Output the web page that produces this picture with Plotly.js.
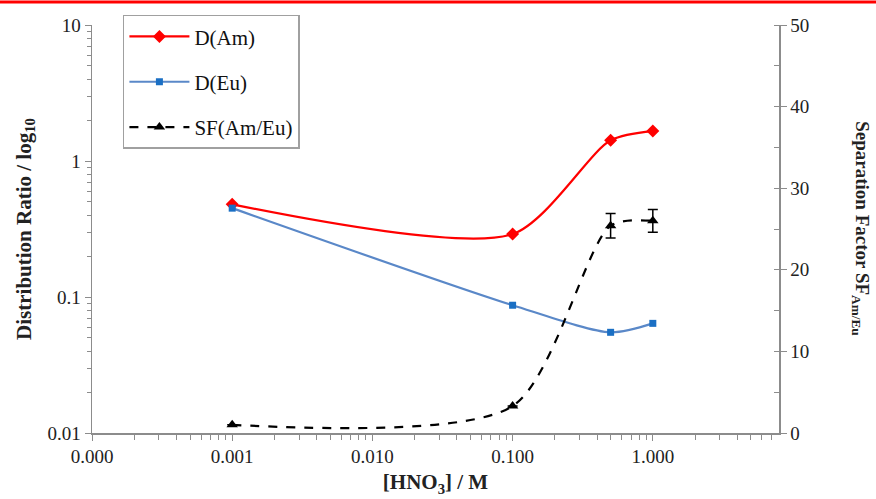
<!DOCTYPE html>
<html><head><meta charset="utf-8">
<script src="https://cdn.plot.ly/plotly-3.0.1.min.js"></script>
<style>body{margin:0;background:#fff}#chart{width:876px;height:499px}</style>
</head><body><div id="chart"></div>
<script>
const hno3 = [0.001, 0.1, 0.5, 1.0];
const dAm = [0.48, 0.29, 1.42, 1.66];
const dEu = [0.45, 0.087, 0.055, 0.064];
const sf = [1.0, 3.3, 25.4, 26.0];
const sfErr = [0.0, 0.0, 1.5, 1.4];
const xTickVals = [0.0001, 0.001, 0.01, 0.1, 1];
const xTickText = ['0.000', '0.001', '0.010', '0.100', '1.000'];
const yTickVals = [0.01, 0.1, 1, 10];
const yTickText = ['0.01', '0.1', '1', '10'];

const serif = '"Liberation Serif", "Times New Roman", serif';
const axisCol = '#8c8c8c';

const traces = [
  {x: hno3, y: dAm, name: 'D(Am)', type: 'scatter', mode: 'lines+markers', legendgroup: 'a',
   line: {color: '#ff0000', width: 2.2, shape: 'spline', smoothing: 0.75},
   marker: {symbol: 'diamond', size: 10, color: '#ff0000'}},
  {x: hno3, y: dEu, name: 'D(Eu)', type: 'scatter', mode: 'lines+markers', legendgroup: 'b',
   line: {color: '#5a88c8', width: 2.2, shape: 'spline', smoothing: 0.75},
   marker: {symbol: 'square', size: 7, color: '#1a6fc4'}},
  {x: hno3, y: sf, name: 'SF(Am/Eu)', type: 'scatter', mode: 'lines+markers', yaxis: 'y2', legendgroup: 'c',
   line: {color: '#000000', width: 2.2, dash: 'dash', shape: 'spline', smoothing: 0.75},
   marker: {symbol: 'triangle-up', size: 10, color: '#000000'},
   error_y: {type: 'data', array: sfErr, visible: true, color: '#000', thickness: 1.5, width: 5}}
];

const layout = {
  width: 876, height: 499,
  margin: {l: 92, r: 97, t: 25, b: 66},
  paper_bgcolor: '#fff', plot_bgcolor: '#fff',
  font: {family: serif, size: 19, color: '#222'},
  showlegend: true,
  legend: {x: 0.045, y: 1.025, xanchor: 'left', yanchor: 'top', bgcolor: '#fff',
           bordercolor: '#a0a0a0', borderwidth: 1.5, font: {family: serif, size: 21, color: '#111'},
           tracegroupgap: 15, itemwidth: 60},
  xaxis: {type: 'log', range: [-4, 0.9], tickvals: xTickVals, ticktext: xTickText,
          showgrid: false, zeroline: false, showline: true, linecolor: axisCol, linewidth: 1.5,
          ticks: 'outside', ticklen: 6, tickcolor: axisCol,
          minor: {ticks: 'outside', ticklen: 5, tickcolor: axisCol, dtick: 'D1', showgrid: false},
          tickfont: {family: serif, size: 19, color: '#222'},
          title: {text: '<b>[HNO<sub>3</sub>] / M</b>', font: {family: serif, size: 21, color: '#222'}, standoff: 8}},
  yaxis: {type: 'log', range: [-2, 1], tickvals: yTickVals, ticktext: yTickText,
          showgrid: false, zeroline: false, showline: true, linecolor: axisCol, linewidth: 1.5,
          ticks: 'outside', ticklen: 6, tickcolor: axisCol,
          minor: {ticks: 'outside', ticklen: 4, tickcolor: axisCol, dtick: 'D1', showgrid: false},
          tickfont: {family: serif, size: 19, color: '#222'},
          title: {text: '<b>Distribution Ratio / log<sub>10</sub></b>', font: {family: serif, size: 21, color: '#222'}, standoff: 10}},
  yaxis2: {overlaying: 'y', side: 'right', range: [0, 50], dtick: 10,
           showgrid: false, zeroline: false, showline: true, linecolor: axisCol, linewidth: 1.5,
           ticks: 'outside', ticklen: 6, tickcolor: axisCol,
           minor: {ticks: 'inside', ticklen: 5, tickcolor: axisCol, dtick: 5, showgrid: false},
           tickfont: {family: serif, size: 19, color: '#222'}},
  annotations: [{xref: 'paper', yref: 'paper', x: 1.119, y: 0.5, xanchor: 'center', yanchor: 'middle',
                 textangle: 90, showarrow: false,
                 text: '<b>Separation Factor SF<sub>Am/Eu</sub></b>', font: {family: serif, size: 19, color: '#222'}}],
  shapes: [{type: 'line', xref: 'paper', yref: 'paper', x0: -92/686, x1: 784/686, y0: 431/408, y1: 431/408,
            line: {color: '#ff0000', width: 3}}]
};

Plotly.newPlot('chart', traces, layout, {displayModeBar: false, staticPlot: true});
</script></body></html>
